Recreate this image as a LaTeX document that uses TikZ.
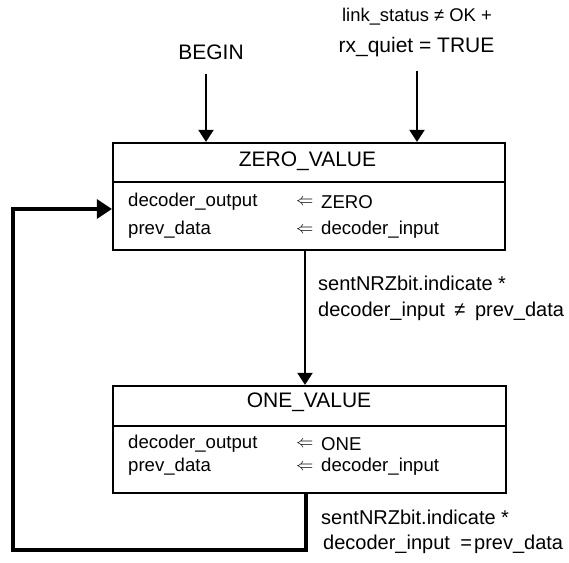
\documentclass[tikz,border=0pt]{standalone}
\usepackage{fontspec}
\setmainfont{Liberation Sans}
\usetikzlibrary{arrows.meta}
\begin{document}
\begin{tikzpicture}[x=1pt,y=-1pt,
  big/.style={font=\fontsize{21}{25}\selectfont,inner sep=0pt},
  small/.style={font=\fontsize{18.6}{22}\selectfont,inner sep=0pt,anchor=west},
  cond/.style={font=\fontsize{20}{24}\selectfont,inner sep=0pt,anchor=west},
  statebox/.style={draw,line width=2.2pt,minimum width=392pt,minimum height=107pt,inner sep=0pt},
  divider/.style={line width=2.2pt},
  arr/.style={line width=2pt,-{Triangle[length=12pt,width=15pt]}},
  looparr/.style={line width=3.2pt,line join=miter,-{Triangle[length=15pt,width=19pt]}}
]
\useasboundingbox (0,0) rectangle (569,562);
% state boxes
\node[statebox] (zero) at (309,196.5) {};
\node[statebox,minimum width=393pt] (one) at (309.5,439.5) {};
\draw[divider] ([xshift=2pt]zero.west |- 0,182) coordinate (zd1) -- ([xshift=-2pt]zero.east |- 0,182) coordinate (zd2);
\draw[divider] ([xshift=2pt]one.west |- 0,426) coordinate (od1) -- ([xshift=-2pt]one.east |- 0,426) coordinate (od2);
% titles
\node[big] (zt) at (307.5,161) {ZERO\_VALUE};
\node[big] (ot) at (309,402) {ONE\_VALUE};
% contents
\node[small] (z1a) at (128,202) {decoder\_output};
\node[small] (z1s) at (296,202) {$\Leftarrow$};
\node[small] (z1b) at (321,202) {ZERO};
\node[small] (z2a) at (128,230) {prev\_data};
\node[small] (z2s) at (296,230) {$\Leftarrow$};
\node[small] (z2b) at (321,230) {decoder\_input};
\node[small] (o1a) at (128,444) {decoder\_output};
\node[small] (o1s) at (296,444) {$\Leftarrow$};
\node[small] (o1b) at (321,444) {ONE};
\node[small] (o2a) at (128,467) {prev\_data};
\node[small] (o2s) at (296,467) {$\Leftarrow$};
\node[small] (o2b) at (321,467) {decoder\_input};
% entry labels
\node[big] (begin) at (211,52) {BEGIN};
\node[big,font=\fontsize{18.4}{22}\selectfont] (ls) at (417,17) {link\_status ≠ OK +};
\node[big] (rq) at (416.5,47) {rx\_quiet = TRUE};
\coordinate (b1) at (206,74);
\coordinate (b2) at (417,71);
\draw[arr] (b1) -- (b1 |- zero.north);
\draw[arr] (b2) -- (b2 |- zero.north);
% zero -> one
\coordinate (zo) at (305,250);
\draw[arr] (zo) -- (zo |- one.north);
\node[cond] (c1) at (318,283) {sentNRZbit.indicate *};
\node[cond] (c2) at (318,311) {decoder\_input\hspace{4pt} ≠\hspace{4pt} prev\_data};
% one -> zero loop
\coordinate (ob) at (306,493);
\coordinate (l1) at (306,550);
\coordinate (l2) at (13,550);
\coordinate (l3) at (13,209);
\draw[looparr] (ob) -- (l1) -- (l2) -- (l3) -- (l3 -| zero.west);
\node[cond] (c3) at (321,517) {sentNRZbit.indicate *};
\node[cond] (c4) at (323,544) {decoder\_input\hspace{5pt} =\hspace{2pt}prev\_data};
\end{tikzpicture}
\end{document}
